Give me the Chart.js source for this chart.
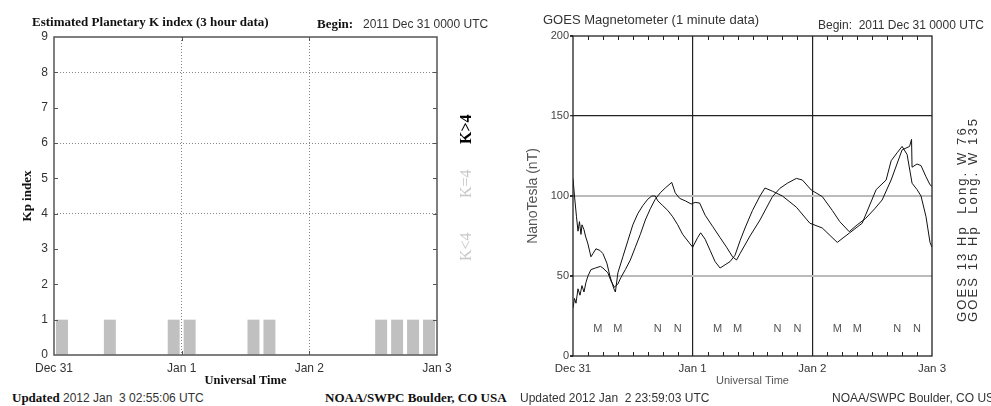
<!DOCTYPE html>
<html>
<head>
<meta charset="utf-8">
<script src="https://cdn.jsdelivr.net/npm/chart.js@4"></script>
<style>
  html, body { margin: 0; padding: 0; background: #fff; }
  #page { position: relative; width: 991px; height: 406px; overflow: hidden; }
  canvas { position: absolute; top: 0; }
  .t { position: absolute; white-space: pre; line-height: 16px; color: #333; font-family: "Liberation Sans", sans-serif; font-size: 12px; }
  .sf { font-family: "Liberation Serif", serif; font-weight: bold; color: #111; font-size: 13px; }
  .rot { transform-origin: left top; transform: rotate(-90deg); }
</style>
</head>
<body>
<div id="page">
  <canvas id="kp" width="500" height="390" style="left:0"></canvas>
  <canvas id="mag" width="496" height="390" style="left:495px"></canvas>

  <div class="t sf" style="left:32px; top:14px">Estimated Planetary K index (3 hour data)</div>
  <div class="t sf" style="left:317px; top:16px">Begin:</div>
  <div class="t" style="left:363px; top:16px">2011 Dec 31 0000 UTC</div>
  <div class="t" style="left:12px; top:390px"><span class="sf">Updated</span> 2012 Jan  3 02:55:06 UTC</div>
  <div class="t sf" style="left:325px; top:390px">NOAA/SWPC Boulder, CO USA</div>

  <div class="t rot" style="left:457px; top:144px; font-family:'Liberation Serif',serif; font-weight:bold; font-size:16px; line-height:18px; color:#000">K&gt;4</div>
  <div class="t rot" style="left:457px; top:198px; font-family:'Liberation Serif',serif; font-size:16px; line-height:18px; color:#c8c8c8">K=4</div>
  <div class="t rot" style="left:457px; top:261px; font-family:'Liberation Serif',serif; font-size:16px; line-height:18px; color:#c8c8c8">K&lt;4</div>

  <div class="t" style="left:543px; top:12px; font-size:13px">GOES Magnetometer (1 minute data)</div>
  <div class="t" style="left:818px; top:17px">Begin:  2011 Dec 31 0000 UTC</div>
  <div class="t" style="left:520px; top:390px">Updated 2012 Jan  2 23:59:03 UTC</div>
  <div class="t" style="left:832px; top:390px">NOAA/SWPC Boulder, CO USA</div>

  <div class="t rot" style="left:955px; top:322px; font-size:13px; line-height:14px; letter-spacing:2.1px">GOES 13 Hp  Long. W 76</div>
  <div class="t rot" style="left:966px; top:322px; font-size:13px; line-height:14px; letter-spacing:2.1px">GOES 15 Hp  Long. W 135</div>
</div>

<script>
// tick labels for the time axes (one per day, in hours since Dec 31 00 UT)
const dayLabels = ['Dec 31', 'Jan 1', 'Jan 2', 'Jan 3'];

// Kp, 3 hour bins (bin centre in hours)
const kpHours = [1.5, 4.5, 7.5, 10.5, 13.5, 16.5, 19.5, 22.5,
  25.5, 28.5, 31.5, 34.5, 37.5, 40.5, 43.5, 46.5,
  49.5, 52.5, 55.5, 58.5, 61.5, 64.5, 67.5, 70.5];
const kpValues = [1, 0, 0, 1, 0, 0, 0, 1,
  1, 0, 0, 0, 1, 1, 0, 0,
  0, 0, 0, 0, 1, 1, 1, 1];

// GOES 13 Hp (nT)
const goes13Hours = [0, 0.3, 0.7, 1.0, 1.3, 1.6, 1.8, 2.2, 2.5, 3.0,
  3.6, 4.0, 4.6, 5.4, 6.0, 6.8, 7.4, 8.2, 8.5, 9.0,
  10, 11, 12, 13, 14, 15, 15.8, 16.5, 17, 18,
  19, 20, 21, 22, 23.5, 24, 25, 25.6, 26.5, 27.5,
  28.5, 29.5, 30.5, 31.5, 32.5, 33.5, 34.5, 36, 37.5, 38.5,
  40, 42, 44.8, 47.5, 50, 53, 55.5, 58, 60.8, 62.8,
  63.8, 65, 66, 67, 68, 69, 69.8, 70.8, 71.6, 72];
const goes13Values = [111, 100, 87, 78, 84, 76, 82, 79, 75, 70,
  62, 64, 67, 66, 64, 58, 50, 42, 40, 52,
  62, 72, 82, 89, 94, 98, 100, 100, 97, 94,
  91, 87, 82, 76, 70, 68, 74, 77, 73, 66,
  59, 55, 57, 59, 63, 72, 80, 91, 100, 105,
  103, 100, 93, 83, 80, 71, 77, 83, 104, 110,
  122, 127, 131, 126, 108, 104, 100, 87, 71, 68];

// GOES 15 Hp (nT)
const goes15Hours = [0, 0.3, 0.6, 1.0, 1.4, 1.8, 2.2, 2.6, 3.0, 3.6,
  4.5, 5.5, 6.0, 7.0, 7.6, 8.3, 9.0, 9.6, 10.5, 11.5,
  12.5, 13.5, 14.5, 15.5, 16.5, 17.5, 18.5, 19.8, 20.5, 21.4,
  22.5, 23.7, 24.5, 25.4, 26.5, 28, 29.5, 30.8, 32, 32.8,
  33.5, 35.5, 37.5, 40, 41.5, 43, 44.8, 46, 47.8, 50,
  52, 53.5, 55.4, 57, 58.7, 60.5, 62, 63.8, 66, 67.5,
  67.9, 68, 69, 69.8, 70.8, 71.6, 72];
const goes15Values = [30, 36, 33, 42, 38, 44, 40, 46, 50, 54,
  55, 56, 55, 52, 47, 43, 45, 49, 54, 60,
  68, 76, 85, 92, 98, 102, 105, 108.5, 102, 98.5,
  97, 95, 96, 95.6, 88, 81, 74, 68, 62, 60,
  64, 75, 85, 99.6, 104.8, 108, 111, 110, 103.7, 99.6,
  91, 84, 77.7, 82, 86, 92, 97.5, 110, 128.8, 131,
  135.4, 118, 120, 119, 112, 107, 106];

// local midnight (M) and noon (N) of the two satellites, hours UT
const midnightHours = [5, 9, 29, 33, 53, 57];
const noonHours = [17, 21, 41, 45, 65, 69];

const dayTick = v => dayLabels[Math.round(v / 24)];
const threeHourly = [3, 6, 9, 12, 15, 18, 21, 27, 30, 33, 36, 39, 42, 45, 51, 54, 57, 60, 63, 66, 69];

// box round the plot plus the short inward tick marks
const framePlugin = {
  id: 'frame',
  afterDraw(chart, args, opts) {
    const { ctx, chartArea: a, scales: { x, y } } = chart;
    ctx.save();
    ctx.strokeStyle = opts.color;
    ctx.lineWidth = opts.width;
    ctx.strokeRect(a.left, a.top, a.right - a.left, a.bottom - a.top);
    ctx.lineWidth = 1;
    ctx.beginPath();
    (opts.xTicks || []).forEach(h => {
      const px = Math.round(x.getPixelForValue(h)) + 0.5;
      ctx.moveTo(px, a.bottom); ctx.lineTo(px, a.bottom - opts.len);
      ctx.moveTo(px, a.top); ctx.lineTo(px, a.top + opts.len);
    });
    (opts.yTicks || []).forEach(v => {
      const py = Math.round(y.getPixelForValue(v)) + 0.5;
      ctx.moveTo(a.left, py); ctx.lineTo(a.left + opts.len, py);
      ctx.moveTo(a.right, py); ctx.lineTo(a.right - opts.len, py);
    });
    ctx.stroke();
    (opts.letters || []).forEach(({ hours, text }) => {
      ctx.fillStyle = '#555';
      ctx.font = '11px "Liberation Sans", sans-serif';
      ctx.textAlign = 'center';
      ctx.textBaseline = 'middle';
      hours.forEach(h => ctx.fillText(text, x.getPixelForValue(h), y.getPixelForValue(opts.letterLevel)));
    });
    ctx.restore();
  }
};

const tickFont = { family: '"Liberation Sans", sans-serif', size: 12 };

new Chart(document.getElementById('kp'), {
  type: 'bar',
  data: {
    datasets: [{
      data: kpHours.map((h, i) => ({ x: h, y: kpValues[i] })),
      backgroundColor: '#c0c0c0',
      borderWidth: 0,
      barPercentage: 0.75,
      categoryPercentage: 1
    }]
  },
  options: {
    responsive: false,
    animation: false,
    devicePixelRatio: 1,
    layout: { padding: { left: 0, top: 37, right: 63, bottom: 0 } },
    plugins: {
      legend: { display: false },
      tooltip: { enabled: false },
      frame: { color: '#555', width: 1.5, len: 4, xTicks: [24, 48], yTicks: [1, 2, 3, 4, 5, 6, 7, 8] }
    },
    scales: {
      x: {
        type: 'linear', min: 0, max: 72, offset: false,
        afterFit: s => { s.height = 35; },
        ticks: { stepSize: 24, callback: dayTick, color: '#333', font: tickFont, padding: 6, maxRotation: 0 },
        grid: { offset: false, drawTicks: false, color: c => (c.tick && (c.tick.value === 24 || c.tick.value === 48)) ? '#888' : 'rgba(0,0,0,0)' },
        border: { display: false, dash: [1, 2] },
        title: { display: true, text: 'Universal Time', color: '#111', font: { family: '"Liberation Serif", serif', weight: 'bold', size: 12.5 }, padding: { top: 0, bottom: 1.5 } }
      },
      y: {
        min: 0, max: 9,
        afterFit: s => { s.width = 54; },
        ticks: { stepSize: 1, color: '#333', font: tickFont, padding: 6 },
        grid: { drawTicks: false, color: c => (c.tick && [4, 6, 8].includes(c.tick.value)) ? '#888' : 'rgba(0,0,0,0)' },
        border: { display: false, dash: [1, 2] },
        title: { display: true, text: 'Kp index', color: '#111', font: { family: '"Liberation Serif", serif', weight: 'bold', size: 13 }, padding: { top: 20, bottom: 0 } }
      }
    }
  },
  plugins: [framePlugin]
});

new Chart(document.getElementById('mag'), {
  type: 'line',
  data: {
    datasets: [{
      label: 'GOES 13 Hp',
      data: goes13Hours.map((h, i) => ({ x: h, y: goes13Values[i] })),
      borderColor: '#111', borderWidth: 1, pointRadius: 0, tension: 0
    }, {
      label: 'GOES 15 Hp',
      data: goes15Hours.map((h, i) => ({ x: h, y: goes15Values[i] })),
      borderColor: '#111', borderWidth: 1, pointRadius: 0, tension: 0
    }]
  },
  options: {
    responsive: false,
    animation: false,
    devicePixelRatio: 1,
    layout: { padding: { left: 0, top: 36, right: 59, bottom: 0 } },
    plugins: {
      legend: { display: false },
      tooltip: { enabled: false },
      frame: {
        color: '#222', width: 1.3, len: 4, xTicks: threeHourly, letterLevel: 17,
        letters: [{ hours: midnightHours, text: 'M' }, { hours: noonHours, text: 'N' }]
      }
    },
    scales: {
      x: {
        type: 'linear', min: 0, max: 72,
        afterFit: s => { s.height = 34; },
        ticks: { stepSize: 24, callback: dayTick, color: '#333', font: { family: '"Liberation Sans", sans-serif', size: 11.5 }, padding: 6, maxRotation: 0 },
        grid: { drawTicks: false, lineWidth: 1.2, color: c => (c.tick && (c.tick.value === 24 || c.tick.value === 48)) ? '#222' : 'rgba(0,0,0,0)' },
        border: { display: false },
        title: { display: true, text: 'Universal Time', color: '#555', font: { family: '"Liberation Sans", sans-serif', size: 11 }, padding: { top: 0, bottom: 2 } }
      },
      y: {
        min: 0, max: 200,
        afterFit: s => { s.width = 78; },
        ticks: { stepSize: 50, color: '#444', font: { family: '"Liberation Sans", sans-serif', size: 11 }, padding: 1 },
        grid: {
          tickLength: 3, tickColor: '#333',
          lineWidth: c => (c.tick && c.tick.value === 150) ? 1.3 : 2,
          color: c => {
            if (!c.tick) return 'rgba(0,0,0,0)';
            if (c.tick.value === 150) return '#222';
            if (c.tick.value === 50 || c.tick.value === 100) return '#bbb';
            return 'rgba(0,0,0,0)';
          }
        },
        border: { display: false },
        title: { display: true, text: 'NanoTesla (nT)', color: '#555', font: { family: '"Liberation Sans", sans-serif', size: 14 }, padding: { top: 30, bottom: 0 } }
      }
    }
  },
  plugins: [framePlugin]
});
</script>
</body>
</html>
